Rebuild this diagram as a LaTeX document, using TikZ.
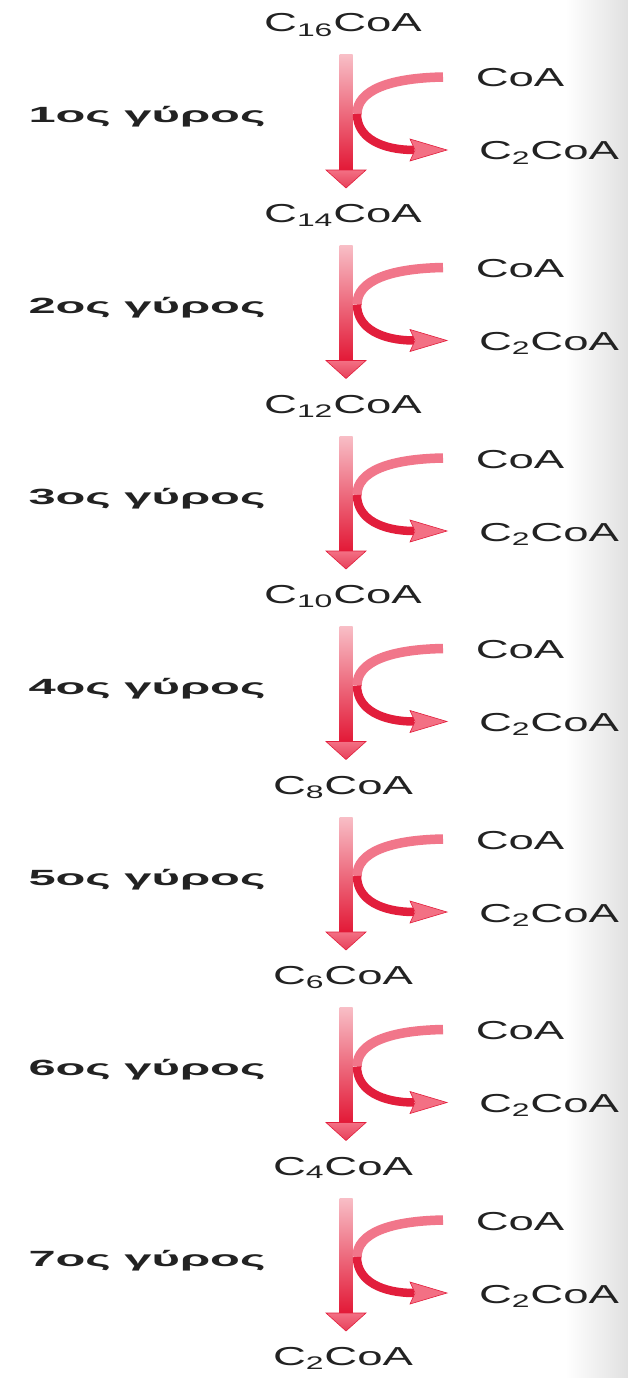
\documentclass[tikz,border=0pt]{standalone}
\usepackage{fontspec}
\setmainfont{Liberation Sans}
\usepackage{graphicx}
\definecolor{pinkl}{RGB}{248,190,198}
\definecolor{redd}{RGB}{226,22,52}
\definecolor{arcup}{RGB}{241,118,138}
\definecolor{arcdn}{RGB}{226,30,60}
\definecolor{headf}{RGB}{243,112,132}
\definecolor{txt}{RGB}{34,34,34}
\tikzset{
 chem/.style={anchor=base, inner sep=0pt, font=\fontsize{26}{30}\selectfont, text=txt},
 roundlbl/.style={anchor=base, inner sep=0pt, font=\bfseries\fontsize{22}{26}\selectfont, text=txt},
 upperarc/.style={draw=arcup, line width=9.5pt},
 lowerarc/.style={draw=arcdn, line width=8.5pt},
 sidehead/.style={fill=headf, draw=arcdn, line width=0.6pt},
 mainhead/.style={top color=headf, bottom color=arcdn!85!white, draw=arcdn, line width=0.6pt},
 stemshade/.style={top color=pinkl, bottom color=redd},
}
\newcommand\wx[1]{\scalebox{1.75}[1]{#1}}
\newcommand\wrd[1]{\scalebox{2.22}[1]{#1}}
\begin{document}
\begin{tikzpicture}[x=1pt,y=1pt]
\useasboundingbox (0,0) rectangle (628,-1378);
\fill[white] (0,0) rectangle (628,-1378);
\shade[left color=white, right color=black!12] (565,0) rectangle (628,-1378);
\node[chem] (m0) at (343,-32) {\wx{C\textsubscript{16}CoA}};
\foreach \k/\n/\r in {0/14/1, 1/12/2, 2/10/3, 3/8/4, 4/6/5, 5/4/6, 6/2/7}{
 \begin{scope}[yshift={-190.5pt*\k}]
  \coordinate (st\k) at (346,-55);
  \coordinate (sb\k) at (346,-172);
  \shade[stemshade] ([xshift=-6.5pt]st\k) rectangle ([xshift=6.5pt]sb\k);
  \coordinate (ca\k) at (443,-77);
  \coordinate (cm\k) at (357,-114);
  \coordinate (ce\k) at (414,-150);
  \draw[upperarc] (ca\k) .. controls (390,-78) and (357,-90) .. (cm\k);
  \draw[lowerarc] (cm\k) .. controls (357,-138) and (382,-150) .. (ce\k);
  \filldraw[sidehead] (410,-139) -- (447,-150) -- (410,-161) -- (415,-150) -- cycle;
  \shadedraw[mainhead] (326,-170) -- (366,-170) -- (346,-188) -- cycle;
  \node[chem] (coa\k) at (520,-87) {\wx{CoA}};
  \node[chem] (ac\k) at (549,-160) {\wx{C\textsubscript{2}CoA}};
  \node[roundlbl] (r\k) at (147,-123) {\wrd{\r ος γύρος}};
  \node[chem] (m\n) at (343,-222.5) {\wx{C\textsubscript{\n}CoA}};
 \end{scope}
}
\end{tikzpicture}
\end{document}
